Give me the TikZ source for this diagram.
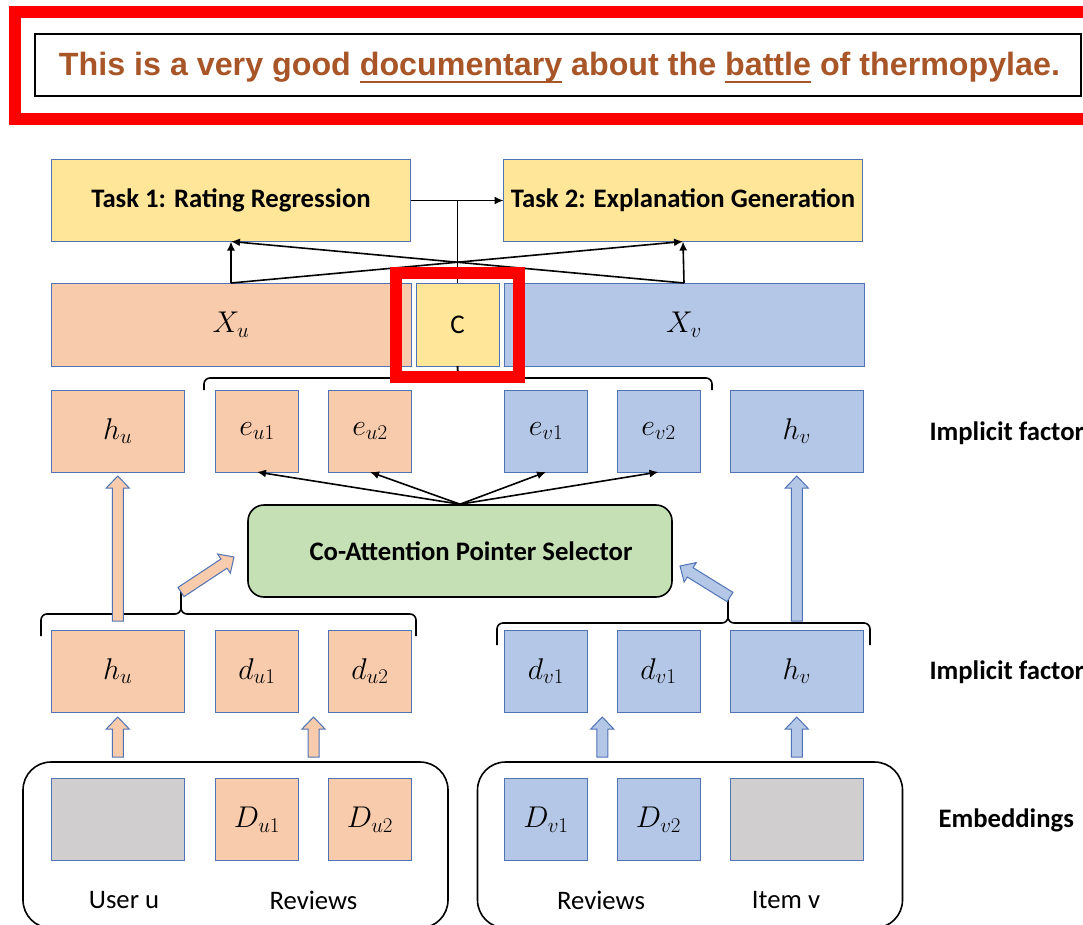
\RequirePackage{fix-cm}
\documentclass[tikz,border=0pt]{standalone}
\usepackage{graphicx}
\usepackage{fontspec}
\setmainfont{Carlito}
\newfontfamily\sentencefont{Liberation Sans}
\usetikzlibrary{arrows.meta,positioning,calc}

\definecolor{peach}{HTML}{F8CBAD}
\definecolor{skyblue}{HTML}{B4C7E7}
\definecolor{butter}{HTML}{FFE699}
\definecolor{sage}{HTML}{C5E0B4}
\definecolor{ash}{HTML}{D0CECE}
\definecolor{edgeblue}{RGB}{80,115,180}
\definecolor{rust}{RGB}{168,86,40}

% underlined word with a heavier rule
\newcommand\uword[1]{\setbox0\hbox{#1}\rlap{\rule[-7pt]{\wd0}{2pt}}\box0\relax}

\tikzset{%
	cell/.style={draw=edgeblue, line width=1pt, inner sep=0pt, outer sep=0pt, minimum height=82pt, font=\fontsize{30}{34}\selectfont},
	wide/.style={minimum width=133.5pt},
	narrow/.style={minimum width=83pt},
	ucell/.style={cell, fill=peach},
	vcell/.style={cell, fill=skyblue},
	task/.style={cell, fill=butter, minimum width=359pt, font=\fontsize{26.7}{32}\selectfont\bfseries},
	panel/.style={draw=black, line width=1.6pt, rounded corners=28pt, minimum width=425pt, minimum height=166pt},
	link/.style={draw=black, line width=1.6pt},
	pt/.style={link, -{Latex[length=9pt,width=8pt]}},
	curly/.style={draw=black, line width=1.6pt, rounded corners=6pt},
	hl/.style={draw=red, line width=12pt},
	side/.style={anchor=west, font=\fontsize{26.7}{32}\selectfont\bfseries},
	caption/.style={font=\fontsize{26.7}{32}\selectfont},
	blockarrow/.style={draw=edgeblue, line width=1pt, to path={
		($(\tikztostart)!5.5pt!90:(\tikztotarget)$)
		-- ($(\tikztotarget)!12pt!(\tikztostart)!5.5pt!-90:(\tikztostart)$)
		-- ($(\tikztotarget)!12pt!(\tikztostart)!11.5pt!-90:(\tikztostart)$)
		-- (\tikztotarget)
		-- ($(\tikztotarget)!12pt!(\tikztostart)!11.5pt!90:(\tikztostart)$)
		-- ($(\tikztotarget)!12pt!(\tikztostart)!5.5pt!90:(\tikztostart)$)
		-- ($(\tikztostart)!5.5pt!-90:(\tikztotarget)$) -- cycle}}
}

\begin{document}
\begin{tikzpicture}[x=1pt, y=-1pt]
	\useasboundingbox (0,0) rectangle (1083,924);

	% example sentence
	\draw[hl] (14.5,12) rectangle (1100,118.5);
	\draw[line width=1.5pt] (35,34) rectangle (1081,96);
	\node[inner sep=0pt, text=rust] (sentence) at (559.5,68)
		{\resizebox{1001pt}{!}{\sentencefont\bfseries\fontsize{30}{36}\selectfont This is a very good \uword{documentary} about the \uword{battle} of thermopylae.}};

	% tasks
	\node[task] (task1) at (231,200.5) {Task 1: Rating Regression};
	\node[task, right=93pt of task1] (task2) {Task 2: Explanation Generation};

	% joint representation
	\node[ucell, minimum width=360pt, minimum height=83pt] (xu) at (231,324.5) {$X_u$};
	\node[cell, narrow, fill=butter, minimum height=83pt, right=5pt of xu, font=\fontsize{27}{32}\selectfont] (ctx) {C};
	\node[vcell, minimum width=360pt, minimum height=83pt, right=5pt of ctx] (xv) {$X_v$};

	% implicit factors, upper row
	\node[ucell, wide] (hutop) at (117.75,431) {$h_u$};
	\node[ucell, narrow, right=31pt of hutop] (eu1) {$e_{u1}$};
	\node[ucell, narrow, right=30pt of eu1] (eu2) {$e_{u2}$};
	\node[vcell, narrow, right=93pt of eu2] (ev1) {$e_{v1}$};
	\node[vcell, narrow, right=29.5pt of ev1] (ev2) {$e_{v2}$};
	\node[vcell, wide, right=30pt of ev2] (hvtop) {$h_v$};

	% implicit factors, lower row
	\node[ucell, wide] (hu) at (117.75,671) {$h_u$};
	\node[ucell, narrow, right=31pt of hu] (du1) {$d_{u1}$};
	\node[ucell, narrow, right=30pt of du1] (du2) {$d_{u2}$};
	\node[vcell, narrow, right=93pt of du2] (dv1) {$d_{v1}$};
	\node[vcell, narrow, right=29.5pt of dv1] (dv2) {$d_{v1}$};
	\node[vcell, wide, right=30pt of dv2] (hv) {$h_v$};

	% embeddings
	\node[cell, wide, fill=ash] (uemb) at (117.75,819.5) {};
	\node[ucell, narrow, right=31pt of uemb] (Du1) {$D_{u1}$};
	\node[ucell, narrow, right=30pt of Du1] (Du2) {$D_{u2}$};
	\node[vcell, narrow, right=93pt of Du2] (Dv1) {$D_{v1}$};
	\node[vcell, narrow, right=29.5pt of Dv1] (Dv2) {$D_{v2}$};
	\node[cell, wide, fill=ash, right=30pt of Dv2] (vemb) {};

	\node[panel] (userbox) at (235.5,845) {};
	\node[panel] (itembox) at (690,845) {};
	\node[caption] (userlbl) at (124,900) {User u};
	\node[caption] (urevlbl) at (313.5,900) {Reviews};
	\node[caption] (vrevlbl) at (601,900) {Reviews};
	\node[caption] (itemlbl) at (786,900) {Item v};

	% selector
	\node[draw=black, line width=1.6pt, fill=sage, rounded corners=16pt, minimum width=424pt, minimum height=92pt,
		font=\fontsize{26.7}{32}\selectfont\bfseries] (coatt) at (460,551) {\hspace*{22pt}Co-Attention Pointer Selector};

	% row labels
	\node[side] (implicitup) at (926,433) {Implicit factors};
	\node[side] (implicitlow) at (926,672) {Implicit factors};
	\node[side] (embed) at (935,820) {Embeddings};

	% arrows to the tasks
	\draw[pt] (task1.east) -- (task2.west);
	\draw[link] (ctx.north) -- (ctx.north |- task1.east);
	\draw[pt] (xu.north) -- (task1.south);
	\draw[pt] (xu.north) -- (task2.south);
	\draw[pt] (xv.north) -- (task2.south);
	\draw[pt] (xv.north) -- (task1.south);

	% pointers
	\foreach \t in {eu1,eu2,ev1,ev2}
		\draw[pt] (coatt.north) -- (\t.south);

	% braces
	\draw[curly] (204,390) -- (204,378) -- (458,378) -- (ctx.south);
	\draw[curly] (712,390) -- (712,378) -- (458,378) -- (ctx.south);
	\draw[curly] (41,636) -- (41,614) -- (181,614) -- (181,592);
	\draw[curly] (416,636) -- (416,614) -- (181,614) -- (181,592);
	\draw[curly] (497,645) -- (497,623) -- (728,623) -- (728,599);
	\draw[curly] (870,645) -- (870,623) -- (728,623) -- (728,599);

	% block arrows
	\coordinate (ubrace) at (181,592);
	\coordinate (uatt) at (234,557);
	\coordinate (vbrace) at (730,597);
	\coordinate (vatt) at (680,566);
	\coordinate (hufoot) at ($(hu.north)+(0,-9)$);
	\coordinate (hutip) at ($(hutop.south)+(0,4)$);
	\coordinate (hvfoot) at ($(hv.north)+(0,-9)$);
	\coordinate (hvtip) at ($(hvtop.south)+(0,4)$);
	\coordinate (uembfoot) at ($(hu.south)+(0,45)$);
	\coordinate (uembtip) at ($(hu.south)+(0,5)$);
	\coordinate (urevfoot) at ($(du1.south)!0.5!(du2.south)+(0,45)$);
	\coordinate (urevtip) at ($(du1.south)!0.5!(du2.south)+(0,5)$);
	\coordinate (vrevfoot) at ($(dv1.south)!0.5!(dv2.south)+(0,45)$);
	\coordinate (vrevtip) at ($(dv1.south)!0.5!(dv2.south)+(0,5)$);
	\coordinate (vembfoot) at ($(hv.south)+(0,45)$);
	\coordinate (vembtip) at ($(hv.south)+(0,5)$);

	\draw[blockarrow, fill=peach] (ubrace) to (uatt);
	\draw[blockarrow, fill=skyblue] (vbrace) to (vatt);
	\draw[blockarrow, fill=peach] (hufoot) to (hutip);
	\draw[blockarrow, fill=skyblue] (hvfoot) to (hvtip);
	\draw[blockarrow, fill=peach] (uembfoot) to (uembtip);
	\draw[blockarrow, fill=peach] (urevfoot) to (urevtip);
	\draw[blockarrow, fill=skyblue] (vrevfoot) to (vrevtip);
	\draw[blockarrow, fill=skyblue] (vembfoot) to (vembtip);

	% highlight on C
	\draw[hl] ($(ctx.north west)+(-20,-10.5)$) rectangle ($(ctx.south east)+(20,10.5)$);
\end{tikzpicture}
\end{document}
